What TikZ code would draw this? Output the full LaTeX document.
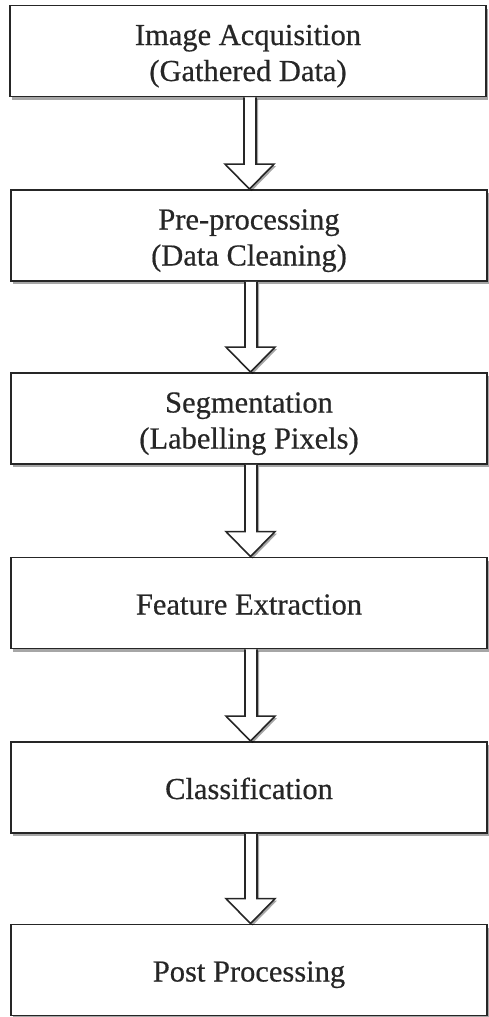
\documentclass[tikz,border=0pt]{standalone}
\usepackage{fontspec}
\setmainfont{Liberation Serif}
\newfontfamily\stagefont[FakeBold=0.5]{Liberation Serif}
\usetikzlibrary{shadows,calc}

\tikzset{
  stage/.style={draw=black!85, line width=1.8pt, fill=white,
    minimum width=476pt, minimum height=91pt, inner sep=0pt,
    align=center, text=black!85,
    font=\stagefont\fontsize{30.5}{36}\selectfont,
    text height=30pt, text depth=7pt,
    drop shadow={shadow xshift=2pt, shadow yshift=-3pt, opacity=0.35, fill=black}},
  twoline/.style={text height=66pt, text depth=6pt},
  hollowarrow/.style={draw=black!85, line width=1.6pt, fill=white, line join=miter,
    drop shadow={shadow xshift=2pt, shadow yshift=-2pt, opacity=0.35, fill=black}}
}

% hollow block arrow from the bottom of one stage to the top of the next
\newcommand{\blockarrow}[2]{%
  \draw[hollowarrow] let \p1=(#1.south), \p2=(#2.north) in
    (\x1-4pt,\y1) -- (\x1-4pt,\y2+25pt) -- (\x1-23pt,\y2+25pt) -- (\x1+1.5pt,\y2)
    -- (\x1+26pt,\y2+25pt) -- (\x1+8pt,\y2+25pt) -- (\x1+8pt,\y1);}

\begin{document}
\begin{tikzpicture}
\useasboundingbox (0pt,0pt) rectangle (488pt,-1017pt);

\node[stage,twoline] (acq) at (248pt,-51pt)    {Image Acquisition\\(Gathered Data)};
\node[stage,twoline] (pre) at (249pt,-235.5pt) {Pre-processing\\(Data Cleaning)};
\node[stage,twoline] (seg) at (249pt,-418.5pt) {Segmentation\\(Labelling Pixels)};
\node[stage] (feat) at (249pt,-603pt)   {Feature Extraction};
\node[stage] (cls)  at (249pt,-787.5pt) {Classification};
\node[stage] (post) at (249pt,-970pt)   {Post Processing};

\blockarrow{acq}{pre}
\blockarrow{pre}{seg}
\blockarrow{seg}{feat}
\blockarrow{feat}{cls}
\blockarrow{cls}{post}
\end{tikzpicture}
\end{document}
